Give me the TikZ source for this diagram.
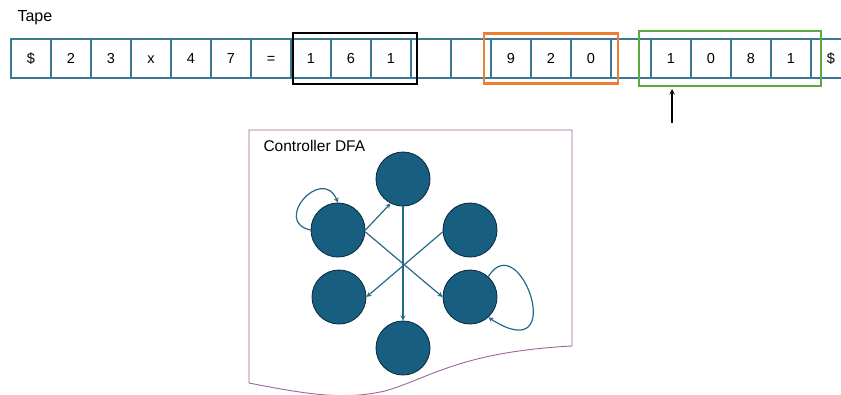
\documentclass[tikz,border=0pt]{standalone}
\usepackage{fontspec}
\setmainfont{Liberation Sans}
\usepackage{xcolor}
\usepackage{tikz}
\usetikzlibrary{automata, positioning, arrows, fit}

\definecolor{tapeblue}{RGB}{58,120,150}
\definecolor{stateblue}{RGB}{23,94,128}
\definecolor{stateedge}{RGB}{14,48,68}
\definecolor{edgeblue}{RGB}{38,105,135}
\definecolor{docpurple}{RGB}{160,100,150}
\definecolor{selorange}{RGB}{237,125,49}
\definecolor{selgreen}{RGB}{92,170,60}

\tikzset{
	cell/.style={draw=tapeblue, line width=1.1pt, minimum width=40pt, minimum height=39pt, inner sep=0pt, outer sep=0pt, text height=10pt, text depth=0pt, font=\fontsize{14.5}{16}\selectfont},
	selbox/.style={line width=2.6pt, inner sep=0pt},
	dfa/.style={state, fill=stateblue, draw=stateedge, line width=0.9pt, minimum size=54pt},
	trans/.style={->, >=stealth, draw=edgeblue, line width=1.2pt},
}

\begin{document}
\begin{tikzpicture}[x=1pt, y=-1pt]
		\useasboundingbox (0,0) rectangle (841,394);
		
		% tape
		\node[font=\fontsize{16}{18}\selectfont, anchor=west] (tapelabel) at (14,18) {Tape};
		\node[cell] (c1) at (31,58.5) {\$};
		\node[cell, right=0pt of c1] (c2) {2};
		\node[cell, right=0pt of c2] (c3) {3};
		\node[cell, right=0pt of c3] (c4) {x};
		\node[cell, right=0pt of c4] (c5) {4};
		\node[cell, right=0pt of c5] (c6) {7};
		\node[cell, right=0pt of c6] (c7) {=};
		\node[cell, right=0pt of c7] (c8) {1};
		\node[cell, right=0pt of c8] (c9) {6};
		\node[cell, right=0pt of c9] (c10) {1};
		\node[cell, right=0pt of c10] (c11) {};
		\node[cell, right=0pt of c11] (c12) {};
		\node[cell, right=0pt of c12] (c13) {9};
		\node[cell, right=0pt of c13] (c14) {2};
		\node[cell, right=0pt of c14] (c15) {0};
		\node[cell, right=0pt of c15] (c16) {};
		\node[cell, right=0pt of c16] (c17) {1};
		\node[cell, right=0pt of c17] (c18) {0};
		\node[cell, right=0pt of c18] (c19) {8};
		\node[cell, right=0pt of c19] (c20) {1};
		\node[cell, right=0pt of c20] (c21) {\$};
		
		% highlighted numbers
		\node[selbox, draw=black, fit=(c8)(c10), inner xsep=2pt, inner ysep=6pt, xshift=4pt] (sel1) {};
		\node[selbox, draw=selorange, fit=(c13)(c15), inner xsep=7pt, inner ysep=5.5pt] (sel2) {};
		\node[selbox, draw=selgreen, fit=(c17)(c20), inner xsep=11pt, inner ysep=8pt, xshift=-1pt] (sel3) {};
		
		% head
		\coordinate (headfoot) at (672,123);
		\coordinate (headtip) at (672,89);
		\draw[->, >=stealth, line width=1.4pt] (headfoot) -- (headtip);
		
		% controller
		\draw[docpurple, line width=0.9pt] (249,383) -- (249,130) -- (572,130) -- (572,346)
			.. controls (460,352) and (430,378) .. (385,391)
			.. controls (345,400) and (310,395) .. (249,383);
		\node[font=\fontsize{15.5}{17}\selectfont, anchor=west] (ctrllabel) at (260,146) {Controller DFA};
		
		\node[dfa] (q0) at (403,179) {};
		\node[dfa] (q1) at (338,230) {};
		\node[dfa] (q2) at (470,230) {};
		\node[dfa] (q3) at (339,297) {};
		\node[dfa] (q4) at (470,297) {};
		\node[dfa] (q5) at (403,348) {};
		
		\draw[trans] (q1.east) -- (q0.243);
		\draw[trans] (q0.south) -- (q5.north);
		\draw[trans] (q1.-4) -- (q4.west);
		\draw[trans] (q2.184) -- (q3.east);
		\draw[trans] (q1.west) .. controls (272,222) and (322,165) .. (q1.north);
		\draw[trans] (q4.48) .. controls (520,225) and (570,370) .. (q4.312);
		
	\end{tikzpicture}
\end{document}
